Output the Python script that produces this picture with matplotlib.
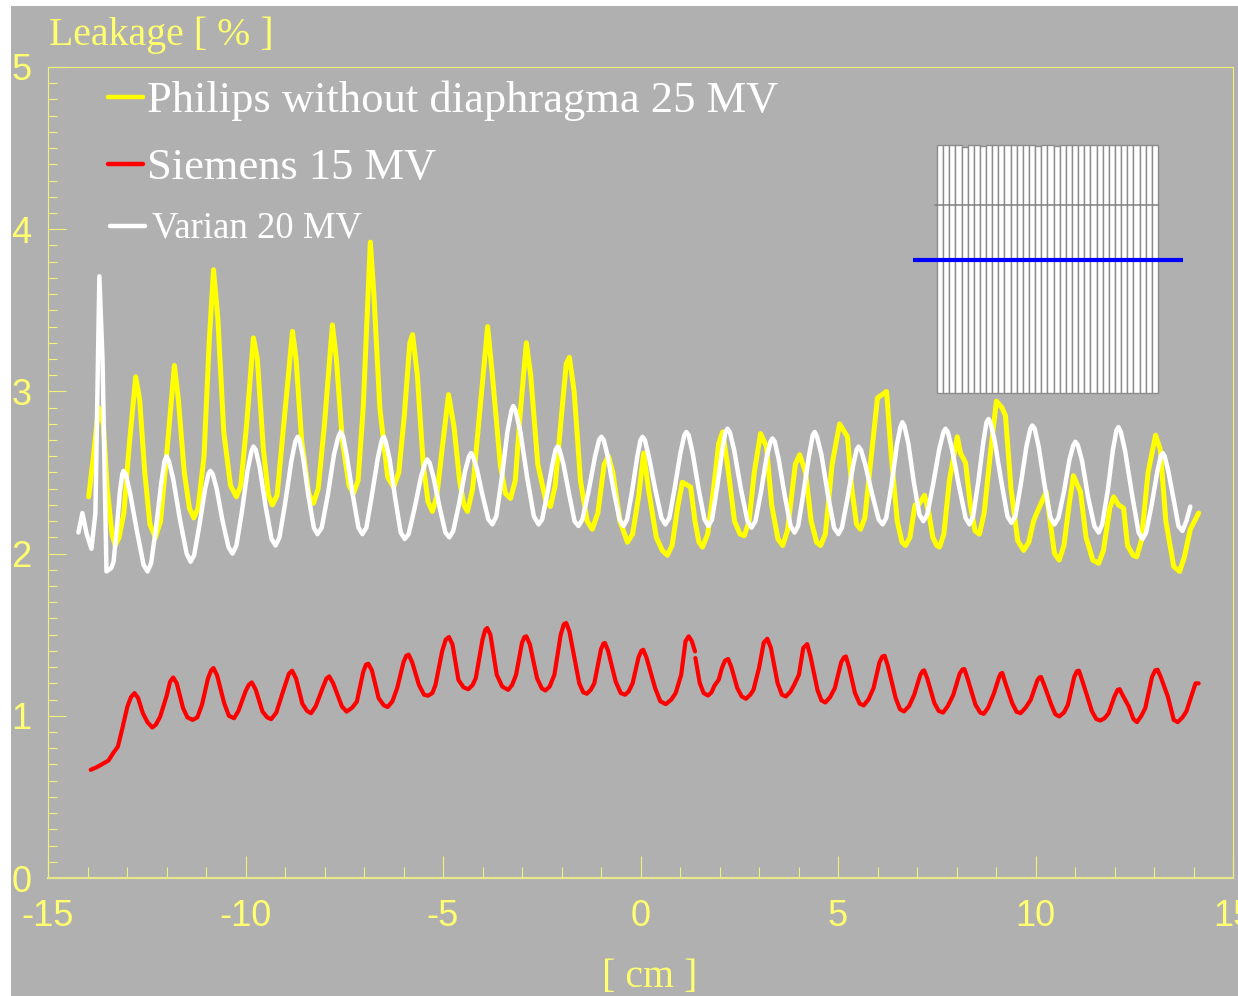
import matplotlib
matplotlib.use("Agg")
import matplotlib.pyplot as plt
from matplotlib.patches import Rectangle
from matplotlib.ticker import MultipleLocator

plt.rcParams["axes.unicode_minus"] = False

# (position in cm, leakage in %)
philips = [
    (-13.97, 2.35), (-13.85, 2.60), (-13.72, 2.90), (-13.6, 2.80), (-13.5, 2.4), (-13.38, 2.12), (-13.3, 2.05),
    (-13.2, 2.1), (-13.08, 2.25), (-12.95, 2.65), (-12.78, 3.09), (-12.68, 2.95), (-12.55, 2.5), (-12.42, 2.18),
    (-12.28, 2.10), (-12.15, 2.2), (-12.0, 2.6), (-11.8, 3.16), (-11.7, 2.95), (-11.55, 2.5), (-11.42, 2.28),
    (-11.31, 2.22), (-11.2, 2.28), (-11.05, 2.6), (-10.92, 3.3), (-10.81, 3.75), (-10.7, 3.45), (-10.55, 2.75),
    (-10.38, 2.42), (-10.23, 2.35), (-10.12, 2.42), (-9.97, 2.8), (-9.8, 3.33), (-9.7, 3.2), (-9.55, 2.65),
    (-9.42, 2.36), (-9.32, 2.30), (-9.2, 2.36), (-9.05, 2.75), (-8.81, 3.37), (-8.72, 3.2), (-8.58, 2.7),
    (-8.4, 2.37), (-8.28, 2.31), (-8.16, 2.4), (-8.0, 2.8), (-7.8, 3.41), (-7.7, 3.2), (-7.55, 2.7),
    (-7.38, 2.42), (-7.27, 2.37), (-7.15, 2.45), (-7.02, 2.9), (-6.84, 3.92), (-6.75, 3.6), (-6.6, 2.9),
    (-6.4, 2.47), (-6.25, 2.41), (-6.12, 2.5), (-5.98, 2.85), (-5.84, 3.3), (-5.77, 3.35), (-5.65, 3.1),
    (-5.5, 2.55), (-5.38, 2.32), (-5.27, 2.26), (-5.16, 2.35), (-5.02, 2.65), (-4.86, 2.98), (-4.72, 2.78),
    (-4.58, 2.45), (-4.47, 2.3), (-4.38, 2.26), (-4.25, 2.4), (-4.08, 2.85), (-3.87, 3.40), (-3.75, 3.1),
    (-3.55, 2.55), (-3.42, 2.37), (-3.29, 2.34), (-3.17, 2.45), (-3.05, 2.85), (-2.89, 3.30), (-2.78, 3.1),
    (-2.6, 2.55), (-2.4, 2.33), (-2.28, 2.29), (-2.16, 2.42), (-2.02, 2.8), (-1.88, 3.17), (-1.8, 3.21),
    (-1.68, 3.0), (-1.52, 2.45), (-1.35, 2.2), (-1.22, 2.15), (-1.08, 2.25), (-0.92, 2.55), (-0.81, 2.60),
    (-0.7, 2.5), (-0.52, 2.2), (-0.33, 2.07), (-0.2, 2.12), (-0.05, 2.35), (0.08, 2.62), (0.2, 2.4),
    (0.4, 2.1), (0.55, 2.02), (0.68, 1.99), (0.8, 2.05), (0.95, 2.3), (1.06, 2.44), (1.27, 2.41),
    (1.38, 2.2), (1.48, 2.07), (1.57, 2.04), (1.7, 2.12), (1.85, 2.4), (1.98, 2.68), (2.08, 2.75),
    (2.2, 2.55), (2.38, 2.2), (2.52, 2.12), (2.63, 2.11), (2.75, 2.2), (2.88, 2.5), (3.04, 2.74),
    (3.19, 2.66), (3.32, 2.3), (3.48, 2.09), (3.6, 2.05), (3.72, 2.14), (3.92, 2.55), (4.03, 2.61),
    (4.18, 2.5), (4.32, 2.2), (4.46, 2.07), (4.56, 2.05), (4.68, 2.12), (4.85, 2.55), (5.04, 2.80),
    (5.24, 2.72), (5.35, 2.4), (5.47, 2.18), (5.57, 2.15), (5.68, 2.22), (5.82, 2.55), (6.0, 2.96),
    (6.23, 3.0), (6.35, 2.6), (6.5, 2.2), (6.62, 2.07), (6.71, 2.05), (6.82, 2.1), (6.95, 2.3),
    (7.04, 2.30), (7.19, 2.36), (7.3, 2.25), (7.4, 2.1), (7.5, 2.05), (7.57, 2.04), (7.68, 2.12),
    (7.82, 2.45), (8.02, 2.72), (8.1, 2.62), (8.23, 2.56), (8.35, 2.3), (8.47, 2.14), (8.58, 2.12),
    (8.7, 2.25), (8.85, 2.6), (9.01, 2.94), (9.15, 2.9), (9.24, 2.85), (9.38, 2.4), (9.55, 2.08),
    (9.7, 2.02), (9.83, 2.07), (9.95, 2.2), (10.05, 2.26), (10.18, 2.33), (10.27, 2.38), (10.37, 2.2),
    (10.48, 2.0), (10.6, 1.96), (10.72, 2.05), (10.85, 2.3), (10.96, 2.48), (11.14, 2.38), (11.28, 2.1),
    (11.45, 1.96), (11.6, 1.94), (11.72, 2.02), (11.88, 2.28), (11.98, 2.35), (12.1, 2.3), (12.23, 2.28),
    (12.33, 2.05), (12.47, 1.99), (12.56, 1.98), (12.68, 2.08), (12.85, 2.5), (13.04, 2.73), (13.16, 2.64),
    (13.3, 2.2), (13.5, 1.92), (13.65, 1.89), (13.77, 1.98), (13.92, 2.15), (14.13, 2.25),
]

siemens_left = [
    (-13.92, 0.667), (-13.75, 0.685), (-13.47, 0.724), (-13.35, 0.77), (-13.23, 0.81), (-13.12, 0.92),
    (-12.99, 1.057), (-12.9, 1.115), (-12.81, 1.14), (-12.72, 1.11), (-12.6, 1.017), (-12.48, 0.96),
    (-12.36, 0.928), (-12.27, 0.945), (-12.16, 0.995), (-12.0, 1.12), (-11.91, 1.21), (-11.83, 1.236),
    (-11.74, 1.2), (-11.58, 1.047), (-11.47, 0.99), (-11.34, 0.975), (-11.22, 0.99), (-11.1, 1.07),
    (-10.95, 1.23), (-10.87, 1.28), (-10.81, 1.294), (-10.72, 1.25), (-10.54, 1.078), (-10.42, 1.0),
    (-10.29, 0.985), (-10.18, 1.03), (-10.0, 1.15), (-9.92, 1.19), (-9.84, 1.206), (-9.74, 1.16),
    (-9.57, 1.026), (-9.45, 0.99), (-9.35, 0.979), (-9.22, 1.02), (-9.05, 1.15), (-8.9, 1.26),
    (-8.82, 1.278), (-8.72, 1.23), (-8.56, 1.074), (-8.44, 1.03), (-8.34, 1.016), (-8.22, 1.06),
    (-8.05, 1.17), (-7.95, 1.23), (-7.88, 1.243), (-7.78, 1.2), (-7.56, 1.058), (-7.44, 1.026),
    (-7.3, 1.05), (-7.18, 1.088), (-7.02, 1.27), (-6.95, 1.315), (-6.89, 1.321), (-6.8, 1.28),
    (-6.63, 1.109), (-6.5, 1.065), (-6.40, 1.054), (-6.28, 1.09), (-6.16, 1.171), (-6.0, 1.33),
    (-5.93, 1.37), (-5.87, 1.377), (-5.78, 1.33), (-5.61, 1.191), (-5.48, 1.13), (-5.38, 1.124),
    (-5.27, 1.14), (-5.19, 1.191), (-5.02, 1.4), (-4.93, 1.47), (-4.85, 1.486), (-4.76, 1.44),
    (-4.61, 1.222), (-4.48, 1.175), (-4.36, 1.164), (-4.25, 1.19), (-4.17, 1.232), (-4.0, 1.47),
    (-3.93, 1.53), (-3.88, 1.541), (-3.8, 1.5), (-3.64, 1.253), (-3.5, 1.18), (-3.35, 1.16),
    (-3.25, 1.19), (-3.15, 1.253), (-3.0, 1.45), (-2.94, 1.485), (-2.89, 1.49), (-2.8, 1.44),
    (-2.62, 1.232), (-2.5, 1.17), (-2.41, 1.156), (-2.3, 1.18), (-2.18, 1.253), (-2.02, 1.5),
    (-1.94, 1.565), (-1.88, 1.572), (-1.8, 1.52), (-1.55, 1.2), (-1.45, 1.145), (-1.36, 1.136),
    (-1.26, 1.16), (-1.17, 1.2), (-1.0, 1.41), (-0.94, 1.445), (-0.9, 1.449), (-0.82, 1.4),
    (-0.63, 1.212), (-0.5, 1.14), (-0.39, 1.13), (-0.3, 1.15), (-0.2, 1.2), (-0.05, 1.36),
    (0.02, 1.4), (0.07, 1.407), (0.15, 1.36), (0.37, 1.171), (0.5, 1.09), (0.64, 1.072),
    (0.78, 1.1), (0.89, 1.14), (1.03, 1.253), (1.14, 1.46), (1.22, 1.49), (1.3, 1.46), (1.38, 1.397),
]

siemens_right = [
    (1.39, 1.356), (1.5, 1.202), (1.6, 1.14), (1.71, 1.125), (1.8, 1.145), (1.87, 1.185), (1.98, 1.222),
    (2.06, 1.294), (2.14, 1.34), (2.22, 1.35), (2.3, 1.3), (2.45, 1.171), (2.56, 1.12), (2.67, 1.105),
    (2.78, 1.13), (2.86, 1.16), (3.0, 1.294), (3.12, 1.45), (3.21, 1.475), (3.3, 1.42), (3.47, 1.202),
    (3.58, 1.13), (3.68, 1.119), (3.8, 1.15), (3.89, 1.191), (4.01, 1.253), (4.12, 1.418), (4.22, 1.442),
    (4.3, 1.37), (4.48, 1.16), (4.58, 1.095), (4.68, 1.082), (4.8, 1.115), (4.92, 1.171), (5.08, 1.33),
    (5.15, 1.36), (5.2, 1.366), (5.28, 1.3), (5.43, 1.14), (5.55, 1.075), (5.65, 1.064), (5.77, 1.1),
    (5.9, 1.171), (6.05, 1.33), (6.12, 1.365), (6.18, 1.37), (6.26, 1.31), (6.46, 1.109), (6.57, 1.04),
    (6.67, 1.027), (6.8, 1.06), (6.93, 1.13), (7.08, 1.25), (7.14, 1.275), (7.18, 1.28), (7.26, 1.23),
    (7.44, 1.078), (7.55, 1.03), (7.66, 1.02), (7.78, 1.06), (7.92, 1.13), (8.08, 1.26), (8.15, 1.285),
    (8.2, 1.288), (8.28, 1.23), (8.48, 1.068), (8.6, 1.02), (8.69, 1.012), (8.8, 1.05), (8.95, 1.14),
    (9.08, 1.24), (9.12, 1.26), (9.16, 1.264), (9.24, 1.2), (9.41, 1.078), (9.52, 1.025), (9.62, 1.016),
    (9.75, 1.05), (9.88, 1.099), (10.05, 1.22), (10.1, 1.237), (10.14, 1.239), (10.22, 1.19), (10.4, 1.068),
    (10.5, 1.01), (10.6, 0.996), (10.72, 1.02), (10.82, 1.068), (10.98, 1.24), (11.05, 1.275), (11.1, 1.278),
    (11.18, 1.22), (11.43, 1.027), (11.54, 0.98), (11.64, 0.971), (11.75, 0.985), (11.85, 1.016), (12.0, 1.12),
    (12.08, 1.16), (12.13, 1.164), (12.2, 1.13), (12.36, 1.058), (12.48, 0.98), (12.57, 0.961), (12.68, 1.0),
    (12.78, 1.048), (12.95, 1.24), (13.03, 1.28), (13.09, 1.284), (13.17, 1.24), (13.35, 1.119), (13.5, 0.975),
    (13.6, 0.961), (13.72, 0.99), (13.82, 1.027), (14.05, 1.2), (14.13, 1.2),
]

varian = [
    (-14.23, 2.13), (-14.13, 2.25), (-14.02, 2.12), (-13.9, 2.03), (-13.8, 2.25), (-13.7, 3.71), (-13.62, 3.2),
    (-13.52, 1.89), (-13.4, 1.91), (-13.34, 1.95), (-13.26, 2.15), (-13.18, 2.38), (-13.12, 2.49), (-13.09, 2.51),
    (-13.03, 2.49), (-12.92, 2.37), (-12.75, 2.14), (-12.58, 1.93), (-12.48, 1.89),
    (-12.39, 1.94), (-12.26, 2.17), (-12.13, 2.44), (-12.05, 2.57), (-12.0, 2.6),
    (-11.94, 2.57), (-11.83, 2.46), (-11.66, 2.21), (-11.49, 2.0), (-11.39, 1.95),
    (-11.3, 1.99), (-11.17, 2.17), (-11.03, 2.39), (-10.94, 2.49), (-10.89, 2.51),
    (-10.83, 2.49), (-10.73, 2.4), (-10.58, 2.2), (-10.43, 2.04), (-10.33, 2.0),
    (-10.23, 2.05), (-10.09, 2.26), (-9.95, 2.51), (-9.85, 2.63), (-9.8, 2.66),
    (-9.74, 2.64), (-9.64, 2.53), (-9.49, 2.29), (-9.34, 2.09), (-9.24, 2.05),
    (-9.14, 2.10), (-8.99, 2.32), (-8.84, 2.57), (-8.74, 2.69), (-8.68, 2.72),
    (-8.63, 2.70), (-8.54, 2.59), (-8.41, 2.36), (-8.27, 2.16), (-8.18, 2.12),
    (-8.07, 2.16), (-7.91, 2.37), (-7.76, 2.61), (-7.65, 2.72), (-7.59, 2.75),
    (-7.53, 2.72), (-7.44, 2.61), (-7.29, 2.37), (-7.14, 2.16), (-7.04, 2.12),
    (-6.94, 2.16), (-6.8, 2.36), (-6.65, 2.59), (-6.55, 2.70), (-6.5, 2.72),
    (-6.45, 2.69), (-6.35, 2.58), (-6.21, 2.34), (-6.07, 2.13), (-5.97, 2.09),
    (-5.87, 2.12), (-5.71, 2.29), (-5.56, 2.47), (-5.45, 2.56), (-5.4, 2.58),
    (-5.34, 2.56), (-5.24, 2.47), (-5.09, 2.29), (-4.94, 2.13), (-4.84, 2.1),
    (-4.74, 2.14), (-4.59, 2.31), (-4.44, 2.51), (-4.34, 2.6), (-4.29, 2.62),
    (-4.24, 2.6), (-4.14, 2.52), (-4.0, 2.36), (-3.85, 2.21), (-3.75, 2.18),
    (-3.65, 2.23), (-3.51, 2.47), (-3.37, 2.75), (-3.27, 2.88), (-3.22, 2.91),
    (-3.16, 2.88), (-3.04, 2.75), (-2.87, 2.47), (-2.70, 2.23), (-2.58, 2.18),
    (-2.49, 2.21), (-2.36, 2.37), (-2.23, 2.55), (-2.15, 2.64), (-2.1, 2.66),
    (-2.05, 2.64), (-1.95, 2.55), (-1.81, 2.37), (-1.67, 2.2), (-1.57, 2.17),
    (-1.47, 2.21), (-1.31, 2.39), (-1.15, 2.6), (-1.05, 2.7), (-0.99, 2.72),
    (-0.93, 2.7), (-0.83, 2.6), (-0.68, 2.39), (-0.53, 2.21), (-0.43, 2.17),
    (-0.34, 2.21), (-0.21, 2.39), (-0.08, 2.6), (0.0, 2.7), (0.05, 2.72),
    (0.11, 2.7), (0.21, 2.6), (0.37, 2.4), (0.53, 2.22), (0.63, 2.18),
    (0.73, 2.22), (0.87, 2.41), (1.01, 2.62), (1.11, 2.73), (1.16, 2.75),
    (1.22, 2.73), (1.32, 2.62), (1.47, 2.40), (1.62, 2.21), (1.72, 2.17),
    (1.81, 2.21), (1.94, 2.41), (2.07, 2.64), (2.15, 2.75), (2.2, 2.77),
    (2.26, 2.75), (2.37, 2.64), (2.54, 2.4), (2.71, 2.2), (2.81, 2.16),
    (2.91, 2.2), (3.05, 2.38), (3.19, 2.59), (3.29, 2.69), (3.34, 2.71),
    (3.4, 2.69), (3.5, 2.58), (3.65, 2.36), (3.8, 2.17), (3.9, 2.13),
    (3.99, 2.17), (4.13, 2.38), (4.27, 2.61), (4.36, 2.73), (4.41, 2.75),
    (4.47, 2.72), (4.58, 2.61), (4.74, 2.37), (4.9, 2.16), (5.01, 2.12),
    (5.1, 2.16), (5.24, 2.34), (5.38, 2.54), (5.47, 2.64), (5.52, 2.66),
    (5.58, 2.64), (5.69, 2.55), (5.86, 2.37), (6.03, 2.21), (6.13, 2.18),
    (6.22, 2.22), (6.36, 2.43), (6.49, 2.67), (6.58, 2.78), (6.63, 2.81),
    (6.68, 2.79), (6.78, 2.68), (6.92, 2.44), (7.06, 2.24), (7.16, 2.2),
    (7.26, 2.24), (7.41, 2.43), (7.56, 2.64), (7.67, 2.75), (7.72, 2.77),
    (7.78, 2.75), (7.89, 2.64), (8.06, 2.42), (8.23, 2.22), (8.33, 2.18),
    (8.42, 2.23), (8.55, 2.44), (8.68, 2.69), (8.76, 2.81), (8.81, 2.83),
    (8.87, 2.8), (8.97, 2.69), (9.13, 2.45), (9.29, 2.23), (9.39, 2.19),
    (9.49, 2.23), (9.63, 2.43), (9.77, 2.66), (9.87, 2.77), (9.92, 2.79),
    (9.98, 2.77), (10.08, 2.66), (10.23, 2.42), (10.38, 2.22), (10.48, 2.18),
    (10.58, 2.22), (10.72, 2.38), (10.86, 2.58), (10.96, 2.67), (11.01, 2.69),
    (11.07, 2.67), (11.18, 2.57), (11.33, 2.35), (11.49, 2.17), (11.6, 2.13),
    (11.69, 2.18), (11.83, 2.39), (11.96, 2.64), (12.05, 2.76), (12.1, 2.78),
    (12.16, 2.75), (12.27, 2.63), (12.44, 2.37), (12.61, 2.13), (12.71, 2.09),
    (12.8, 2.13), (12.94, 2.3), (13.08, 2.5), (13.17, 2.6), (13.22, 2.62),
    (13.27, 2.6), (13.36, 2.51), (13.5, 2.33), (13.62, 2.17), (13.72, 2.14),
    (13.82, 2.2), (13.92, 2.29),
]

# leaf tops of the small collimator sketch
leaf_tops = [
    40.0, 40.0, 40.0, 40.0, 39.7, 40.0, 40.0, 39.8, 40.0, 40.0, 40.0, 40.0,
    40.0, 40.0, 40.0, 40.0, 39.8, 40.0, 40.0, 39.8, 40.0, 40.0, 40.0, 40.0,
    40.0, 40.0, 40.0, 40.0, 40.0, 40.0, 40.0, 40.0, 40.0, 40.0, 40.0, 40.0,
]
sketch_gray_y = 30.3
sketch_blue_y = 21.45

x_ticks = [-15, -10, -5, 0, 5, 10, 15]
y_ticks = [0, 1, 2, 3, 4, 5]

BG = "#b0b0b0"
AXIS = "#f2f27a"
LABEL = "#ffff70"
W, H = 1238, 996

serif = ["Liberation Serif", "DejaVu Serif"]

fig = plt.figure(figsize=(W / 100, H / 100), dpi=100, facecolor="white")
fig.add_artist(Rectangle((11 / W, 0), (W - 11) / W, (H - 6) / H, transform=fig.transFigure,
                         facecolor=BG, edgecolor="none", zorder=-5))

ax = fig.add_axes([48 / W, (H - 878) / H, (1233 - 48) / W, (878 - 67) / H])
ax.patch.set_visible(False)


def plot_series(points, color, lw):
    xs, ys = zip(*points)
    ax.plot(xs, ys, color=color, lw=lw, solid_joinstyle="round", solid_capstyle="round", clip_on=False)


plot_series(philips, "#ffff00", 3.6)
plot_series(siemens_left, "#ff0000", 3.0)
plot_series(siemens_right, "#ff0000", 3.0)
plot_series(varian, "#ffffff", 3.2)

ax.set_xlim(-15, 15)
ax.set_ylim(0, 5)
ax.set_xticks(x_ticks)
ax.set_yticks(y_ticks)
ax.xaxis.set_minor_locator(MultipleLocator(1))
ax.yaxis.set_minor_locator(MultipleLocator(0.1))
ax.tick_params(which="major", direction="in", color=AXIS, width=0.8, labelcolor=LABEL, labelsize=26)
ax.tick_params(axis="x", which="major", length=16, pad=15)
ax.tick_params(axis="y", which="major", length=13, pad=12)
ax.tick_params(axis="x", which="minor", direction="in", color=AXIS, width=0.8, length=8)
ax.tick_params(axis="y", which="minor", direction="in", color=AXIS, width=0.8, length=6.5)
for lab in ax.get_xticklabels() + ax.get_yticklabels():
    lab.set_family("Liberation Sans")
for side in ax.spines.values():
    side.set_color(AXIS)
    side.set_linewidth(0.8)
ax.spines["bottom"].set_linewidth(1.6)
ax.spines["bottom"].set_color("#e6e68c")

# legend is hand placed in the plot like the original
ax.plot([-13.48, -12.6], [4.815, 4.815], color="#ffff00", lw=3.2, solid_capstyle="round")
ax.plot([-13.48, -12.6], [4.40, 4.40], color="#ff0000", lw=3.2, solid_capstyle="round")
ax.plot([-13.42, -12.54], [4.02, 4.02], color="#ffffff", lw=3.2, solid_capstyle="round")
ax.text(-12.5, 4.72, "Philips without diaphragma 25 MV", color="white", family=serif, fontsize=32, va="baseline")
ax.text(-12.5, 4.31, "Siemens 15 MV", color="white", family=serif, fontsize=32, va="baseline")
ax.text(-12.37, 3.95, "Varian 20 MV", color="white", family=serif, fontsize=26.5, va="baseline")

fig.text(49 / W, (H - 45) / H, "Leakage [ % ]", color=LABEL, family=serif, fontsize=28.6, va="baseline")
fig.text(650 / W, (H - 987) / H, "[ cm ]", color=LABEL, family=serif, fontsize=28.6, va="baseline", ha="center")

# collimator sketch
sketch = fig.add_axes([913 / W, (H - 395) / H, (1183 - 913) / W, (395 - 140) / H])
sketch.patch.set_visible(False)
sketch.axis("off")
sketch.bar(range(len(leaf_tops)), leaf_tops, width=1.0, align="edge", facecolor="white",
           edgecolor="#8c8c8c", linewidth=1.0)
sketch.plot([-0.3, 36], [sketch_gray_y, sketch_gray_y], color="#808080", lw=1.1)
sketch.plot([-3.9, 40.0], [sketch_blue_y, sketch_blue_y], color="#0000ff", lw=3, solid_capstyle="round")
sketch.set_xlim(-3.9, 40.07)
sketch.set_ylim(-0.32, 40.8)

fig.savefig("out.png", dpi=100, facecolor="white")
